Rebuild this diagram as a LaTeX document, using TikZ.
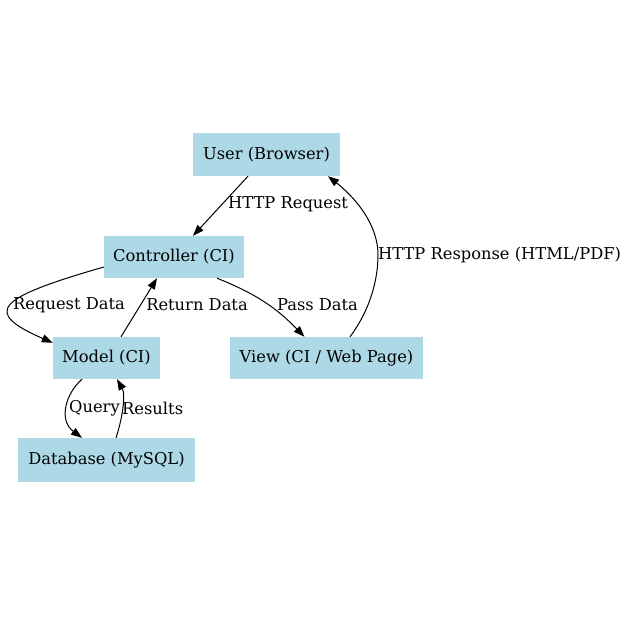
\documentclass[tikz,border=0pt]{standalone}
\usepackage{fontspec}
\setmainfont{DejaVu Serif}
\usetikzlibrary{arrows.meta}
\definecolor{gvblue}{RGB}{173,216,230}
\tikzset{
  box/.style={fill=gvblue, draw=none, inner sep=0pt, font=\fontsize{16.3}{19}\selectfont},
  lbl/.style={inner sep=0pt, font=\fontsize{16.3}{19}\selectfont},
  conn/.style={draw=black, line width=1pt, -{Triangle[length=11pt,width=8pt]}},
}
\begin{document}
\begin{tikzpicture}[x=1pt,y=-1pt]
\useasboundingbox (0,0) rectangle (642,642);
\fill[white] (0,0) rectangle (642,642);
% nodes
\node[box, minimum width=147pt, minimum height=43pt] (user) at (266.5,154.5) {User (Browser)};
\node[box, minimum width=140pt, minimum height=42pt] (ctrl) at (174,257) {Controller (CI)};
\node[box, minimum width=107pt, minimum height=42pt] (model) at (106.5,358) {Model (CI)};
\node[box, minimum width=193pt, minimum height=42pt] (view) at (326.5,358) {View (CI / Web Page)};
\node[box, minimum width=177pt, minimum height=44pt] (db) at (106.5,460) {Database (MySQL)};
% connectors
\draw[conn] ([xshift=-18.5pt]user.south) -- ([xshift=19pt]ctrl.north);
\draw[conn] ([yshift=-10pt]ctrl.west) .. controls (-4,298) and (-18,312) .. ([yshift=-6pt]model.north west);
\draw[conn] ([xshift=14.5pt]model.north) -- ([xshift=-17pt]ctrl.south);
\draw[conn] ([xshift=43pt]ctrl.south) to[bend left=12] ([xshift=-22pt]view.north);
\coordinate (resmid) at (378,255);
\draw[conn] ([xshift=23.5pt]view.north) .. controls (370,310) and (378,280) .. (resmid) .. controls (378,222) and (352,195) .. ([xshift=61.5pt]user.south);
\draw[conn] ([xshift=-24.5pt]model.south) .. controls (66,393) and (58,420) .. ([xshift=-24.5pt]db.north);
\draw[conn] ([xshift=9.5pt]db.north) .. controls (122,420) and (126,395) .. ([xshift=10.5pt]model.south);
% labels
\node[lbl, anchor=west] (l1) at (228,204) {HTTP Request};
\node[lbl, anchor=west] (l2) at (13,305) {Request Data};
\node[lbl] (l3) at (197,305) {Return Data};
\node[lbl] (l4) at (317.5,305) {Pass Data};
\node[lbl, anchor=west] (l5) at (378,255) {HTTP Response (HTML/PDF)};
\node[lbl, anchor=west] (l6) at (69,408) {Query};
\node[lbl, anchor=west] (l7) at (122,408) {Results};
\end{tikzpicture}
\end{document}
